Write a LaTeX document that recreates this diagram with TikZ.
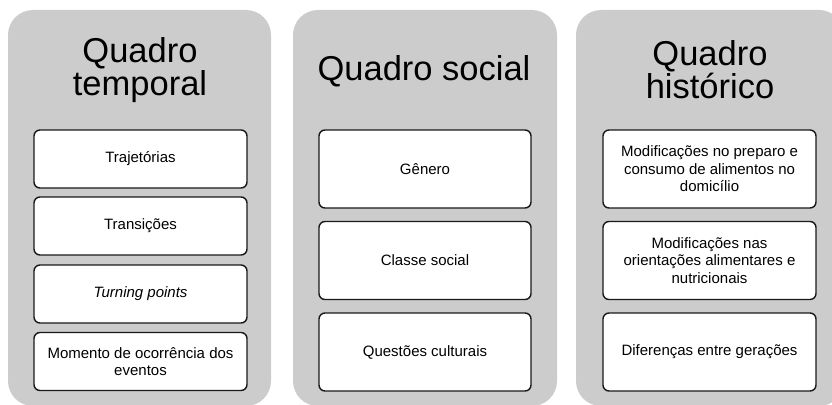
\documentclass[tikz,border=0pt]{standalone}
\usepackage{fontspec}
\setmainfont{Liberation Sans}
\definecolor{panelgray}{RGB}{204,204,204}
\definecolor{boxline}{RGB}{25,25,25}
\begin{document}
\begin{tikzpicture}[x=1pt,y=-1pt,
  panel/.style={rectangle,rounded corners=25pt,fill=panelgray,draw=none,inner sep=0pt},
  titletext/.style={font=\fontsize{34.5}{33}\selectfont,align=center,inner sep=0pt},
  itembox/.style={rectangle,rounded corners=6pt,draw=boxline,line width=1.4pt,fill=white,
    minimum width=213pt,inner sep=0pt,font=\fontsize{15}{17.5}\selectfont,align=center},
  shortbox/.style={itembox,minimum height=58pt},
  tallbox/.style={itembox,minimum height=78pt}]
\useasboundingbox (0,0) rectangle (832,404);
% panels
\node[panel,minimum width=263pt,minimum height=396pt] (p1) at (139.5,208) {};
\node[panel,minimum width=264pt,minimum height=396pt] (p2) at (425,208) {};
\node[panel,minimum width=268pt,minimum height=396pt] (p3) at (710,208) {};
% titles
\node[titletext] (t1) at (140,70.5) {Quadro\\temporal};
\node[titletext,anchor=base] (t2) at (424,81) {Quadro social};
\node[titletext] (t3) at (710,69.5) {Quadro\\histórico};
% panel 1 boxes
\node[shortbox] (a1) at (140.5,159) {Trajetórias};
\node[shortbox] (a2) at (140.5,226) {Transições};
\node[shortbox] (a3) at (140.5,294) {\itshape Turning points};
\node[shortbox] (a4) at (140.5,361.5) {Momento de ocorrência dos\\eventos};
% panel 2 boxes
\node[tallbox,minimum width=212pt] (b1) at (425,169) {Gênero};
\node[tallbox,minimum width=212pt] (b2) at (425,260.5) {Classe social};
\node[tallbox,minimum width=212pt] (b3) at (425,352) {Questões culturais};
% panel 3 boxes
\node[tallbox] (c1) at (709.5,169) {Modificações no preparo e\\consumo de alimentos no\\domicílio};
\node[tallbox] (c2) at (709.5,260.5) {Modificações nas\\orientações alimentares e\\nutricionais};
\node[tallbox] (c3) at (709.5,352) {Diferenças entre gerações};
\end{tikzpicture}
\end{document}
